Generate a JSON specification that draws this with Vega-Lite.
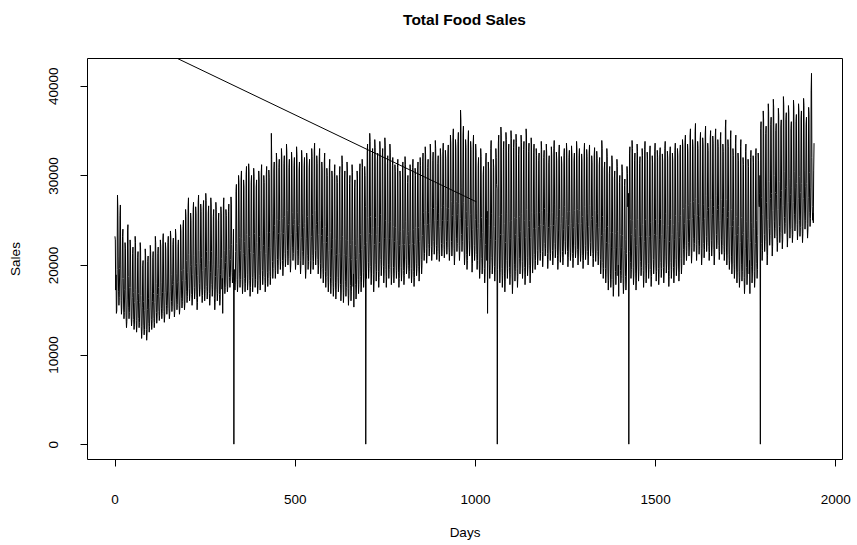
{
"$schema": "https://vega.github.io/schema/vega-lite/v6.json",
"width": 755,
"height": 401,
"autosize": {"type": "none"},
"padding": {"left": 87, "top": 58, "right": 15, "bottom": 86},
"background": "white",
"config": {
  "view": {"stroke": "black", "strokeWidth": 1},
  "font": "Liberation Sans",
  "axis": {"domain": false, "grid": false, "tickColor": "black", "tickSize": 7, "labelColor": "black", "labelFont": "Liberation Sans", "labelFontSize": 13.5, "titleFont": "Liberation Sans", "titleFontSize": 13.5, "titleFontWeight": "normal", "titleColor": "black"}
},
"title": {"text": "Total Food Sales", "font": "Liberation Sans", "fontSize": 15.5, "fontWeight": "bold", "color": "black", "anchor": "middle", "frame": "group", "offset": 30},
"layer": [
{
"data": {"values": [
{"d":1,"v":23200},{"d":2,"v":22800},{"d":3,"v":17200},{"d":4,"v":18900},{"d":5,"v":14600},{"d":6,"v":14900},{"d":7,"v":19500},
{"d":8,"v":27800},{"d":9,"v":26200},{"d":10,"v":21000},{"d":11,"v":17000},{"d":12,"v":15500},{"d":13,"v":16400},{"d":14,"v":19600},
{"d":15,"v":25500},{"d":16,"v":26700},{"d":17,"v":20000},{"d":18,"v":16000},{"d":19,"v":14500},{"d":20,"v":15200},{"d":21,"v":18500},
{"d":22,"v":23200},{"d":23,"v":24000},{"d":24,"v":18500},{"d":25,"v":15200},{"d":26,"v":14000},{"d":27,"v":14700},{"d":28,"v":17300},
{"d":29,"v":22500},{"d":30,"v":21800},{"d":31,"v":17200},{"d":32,"v":14100},{"d":33,"v":13000},{"d":34,"v":13700},{"d":35,"v":16100},
{"d":36,"v":23800},{"d":37,"v":24500},{"d":38,"v":18700},{"d":39,"v":15300},{"d":40,"v":14000},{"d":41,"v":14700},{"d":42,"v":17500},
{"d":43,"v":22800},{"d":44,"v":22000},{"d":45,"v":17500},{"d":46,"v":14300},{"d":47,"v":13200},{"d":48,"v":13900},{"d":49,"v":16400},
{"d":50,"v":21300},{"d":51,"v":22000},{"d":52,"v":16900},{"d":53,"v":13900},{"d":54,"v":12800},{"d":55,"v":13400},{"d":56,"v":15800},
{"d":57,"v":23200},{"d":58,"v":22500},{"d":59,"v":17300},{"d":60,"v":13800},{"d":61,"v":12500},{"d":62,"v":13300},{"d":63,"v":16000},
{"d":64,"v":20800},{"d":65,"v":21500},{"d":66,"v":16800},{"d":67,"v":14000},{"d":68,"v":13000},{"d":69,"v":13600},{"d":70,"v":15800},
{"d":71,"v":22500},{"d":72,"v":21900},{"d":73,"v":16600},{"d":74,"v":13100},{"d":75,"v":11800},{"d":76,"v":12600},{"d":77,"v":15300},
{"d":78,"v":19900},{"d":79,"v":20500},{"d":80,"v":15900},{"d":81,"v":13200},{"d":82,"v":12200},{"d":83,"v":12800},{"d":84,"v":14900},
{"d":85,"v":21800},{"d":86,"v":21100},{"d":87,"v":16200},{"d":88,"v":12800},{"d":89,"v":11600},{"d":90,"v":12300},{"d":91,"v":15000},
{"d":92,"v":20400},{"d":93,"v":21000},{"d":94,"v":16300},{"d":95,"v":13500},{"d":96,"v":12500},{"d":97,"v":13100},{"d":98,"v":15300},
{"d":99,"v":22200},{"d":100,"v":21500},{"d":101,"v":17000},{"d":102,"v":13900},{"d":103,"v":12800},{"d":104,"v":13500},{"d":105,"v":15900},
{"d":106,"v":20800},{"d":107,"v":21500},{"d":108,"v":16800},{"d":109,"v":14000},{"d":110,"v":13000},{"d":111,"v":13600},{"d":112,"v":15800},
{"d":113,"v":23200},{"d":114,"v":22500},{"d":115,"v":17900},{"d":116,"v":14700},{"d":117,"v":13500},{"d":118,"v":14200},{"d":119,"v":16700},
{"d":120,"v":21300},{"d":121,"v":22000},{"d":122,"v":17500},{"d":123,"v":14800},{"d":124,"v":13800},{"d":125,"v":14400},{"d":126,"v":16500},
{"d":127,"v":22800},{"d":128,"v":22100},{"d":129,"v":18000},{"d":130,"v":15100},{"d":131,"v":14000},{"d":132,"v":14600},{"d":133,"v":16900},
{"d":134,"v":22800},{"d":135,"v":23500},{"d":136,"v":18100},{"d":137,"v":14800},{"d":138,"v":13600},{"d":139,"v":14300},{"d":140,"v":16900},
{"d":141,"v":22500},{"d":142,"v":21800},{"d":143,"v":18100},{"d":144,"v":15500},{"d":145,"v":14500},{"d":146,"v":15100},{"d":147,"v":17100},
{"d":148,"v":22500},{"d":149,"v":23200},{"d":150,"v":18100},{"d":151,"v":15100},{"d":152,"v":14000},{"d":153,"v":14600},{"d":154,"v":17000},
{"d":155,"v":23800},{"d":156,"v":23100},{"d":157,"v":18900},{"d":158,"v":15900},{"d":159,"v":14800},{"d":160,"v":15400},{"d":161,"v":17800},
{"d":162,"v":22300},{"d":163,"v":23000},{"d":164,"v":18200},{"d":165,"v":15300},{"d":166,"v":14200},{"d":167,"v":14800},{"d":168,"v":17100},
{"d":169,"v":24000},{"d":170,"v":23300},{"d":171,"v":19000},{"d":172,"v":16100},{"d":173,"v":15000},{"d":174,"v":15600},{"d":175,"v":18000},
{"d":176,"v":22100},{"d":177,"v":22800},{"d":178,"v":18200},{"d":179,"v":15500},{"d":180,"v":14500},{"d":181,"v":15100},{"d":182,"v":17200},
{"d":183,"v":24500},{"d":184,"v":23800},{"d":185,"v":19400},{"d":186,"v":16300},{"d":187,"v":15200},{"d":188,"v":15900},{"d":189,"v":18300},
{"d":190,"v":24300},{"d":191,"v":25000},{"d":192,"v":19500},{"d":193,"v":16200},{"d":194,"v":15000},{"d":195,"v":15700},{"d":196,"v":18300},
{"d":197,"v":26200},{"d":198,"v":25400},{"d":199,"v":20500},{"d":200,"v":17000},{"d":201,"v":15800},{"d":202,"v":16500},{"d":203,"v":19200},
{"d":204,"v":26600},{"d":205,"v":27500},{"d":206,"v":21200},{"d":207,"v":17400},{"d":208,"v":16000},{"d":209,"v":16800},{"d":210,"v":19800},
{"d":211,"v":25800},{"d":212,"v":25000},{"d":213,"v":20100},{"d":214,"v":16700},{"d":215,"v":15500},{"d":216,"v":16200},{"d":217,"v":18900},
{"d":218,"v":26200},{"d":219,"v":27000},{"d":220,"v":21100},{"d":221,"v":17500},{"d":222,"v":16200},{"d":223,"v":17000},{"d":224,"v":19800},
{"d":225,"v":26500},{"d":226,"v":25700},{"d":227,"v":20200},{"d":228,"v":16400},{"d":229,"v":15000},{"d":230,"v":15800},{"d":231,"v":18800},
{"d":232,"v":27000},{"d":233,"v":27800},{"d":234,"v":21600},{"d":235,"v":17900},{"d":236,"v":16500},{"d":237,"v":17300},{"d":238,"v":20200},
{"d":239,"v":26800},{"d":240,"v":26000},{"d":241,"v":20800},{"d":242,"v":17100},{"d":243,"v":15800},{"d":244,"v":16600},{"d":245,"v":19400},
{"d":246,"v":26400},{"d":247,"v":27200},{"d":248,"v":21000},{"d":249,"v":17300},{"d":250,"v":16000},{"d":251,"v":16800},{"d":252,"v":19700},
{"d":253,"v":28000},{"d":254,"v":27200},{"d":255,"v":21500},{"d":256,"v":17600},{"d":257,"v":16200},{"d":258,"v":17000},{"d":259,"v":20100},
{"d":260,"v":25800},{"d":261,"v":26600},{"d":262,"v":20500},{"d":263,"v":16800},{"d":264,"v":15500},{"d":265,"v":16300},{"d":266,"v":19200},
{"d":267,"v":27500},{"d":268,"v":26700},{"d":269,"v":21500},{"d":270,"v":17800},{"d":271,"v":16500},{"d":272,"v":17300},{"d":273,"v":20100},
{"d":274,"v":25400},{"d":275,"v":26200},{"d":276,"v":20000},{"d":277,"v":16300},{"d":278,"v":15000},{"d":279,"v":15800},{"d":280,"v":18700},
{"d":281,"v":27000},{"d":282,"v":26200},{"d":283,"v":21000},{"d":284,"v":17300},{"d":285,"v":16000},{"d":286,"v":16800},{"d":287,"v":19600},
{"d":288,"v":25000},{"d":289,"v":25800},{"d":290,"v":20100},{"d":291,"v":16700},{"d":292,"v":15500},{"d":293,"v":16200},{"d":294,"v":18900},
{"d":295,"v":26500},{"d":296,"v":25700},{"d":297,"v":20700},{"d":298,"v":17300},{"d":299,"v":18500},{"d":300,"v":14600},{"d":301,"v":19500},
{"d":302,"v":26700},{"d":303,"v":27500},{"d":304,"v":21600},{"d":305,"v":18100},{"d":306,"v":16800},{"d":307,"v":17500},{"d":308,"v":20300},
{"d":309,"v":26200},{"d":310,"v":25500},{"d":311,"v":21100},{"d":312,"v":18100},{"d":313,"v":17000},{"d":314,"v":17600},{"d":315,"v":20000},
{"d":316,"v":26000},{"d":317,"v":26800},{"d":318,"v":21700},{"d":319,"v":18600},{"d":320,"v":17500},{"d":321,"v":18200},{"d":322,"v":20600},
{"d":323,"v":27600},{"d":324,"v":26800},{"d":325,"v":22300},{"d":326,"v":19200},{"d":327,"v":18000},{"d":328,"v":18700},{"d":329,"v":21200},
{"d":330,"v":24000},{"d":331,"v":0},{"d":332,"v":19500},{"d":333,"v":17800},{"d":334,"v":17200},{"d":335,"v":18000},{"d":336,"v":21500},
{"d":337,"v":28200},{"d":338,"v":29000},{"d":339,"v":22400},{"d":340,"v":18400},{"d":341,"v":17000},{"d":342,"v":17800},{"d":343,"v":21000},
{"d":344,"v":30000},{"d":345,"v":29200},{"d":346,"v":23100},{"d":347,"v":19000},{"d":348,"v":17500},{"d":349,"v":18400},{"d":350,"v":21600},
{"d":351,"v":29600},{"d":352,"v":30500},{"d":353,"v":23000},{"d":354,"v":18400},{"d":355,"v":16800},{"d":356,"v":17800},{"d":357,"v":21300},
{"d":358,"v":29500},{"d":359,"v":28700},{"d":360,"v":22600},{"d":361,"v":18500},{"d":362,"v":17000},{"d":363,"v":17900},{"d":364,"v":21100},
{"d":365,"v":30100},{"d":366,"v":31000},{"d":367,"v":23400},{"d":368,"v":18900},{"d":369,"v":17200},{"d":370,"v":18200},{"d":371,"v":21800},
{"d":372,"v":31300},{"d":373,"v":30400},{"d":374,"v":23200},{"d":375,"v":18300},{"d":376,"v":16500},{"d":377,"v":17500},{"d":378,"v":21400},
{"d":379,"v":29200},{"d":380,"v":30000},{"d":381,"v":22900},{"d":382,"v":18600},{"d":383,"v":17000},{"d":384,"v":17900},{"d":385,"v":21300},
{"d":386,"v":30800},{"d":387,"v":29900},{"d":388,"v":23500},{"d":389,"v":19100},{"d":390,"v":17500},{"d":391,"v":18400},{"d":392,"v":21900},
{"d":393,"v":28700},{"d":394,"v":29500},{"d":395,"v":22500},{"d":396,"v":18300},{"d":397,"v":16800},{"d":398,"v":17700},{"d":399,"v":21000},
{"d":400,"v":30500},{"d":401,"v":29600},{"d":402,"v":23200},{"d":403,"v":18800},{"d":404,"v":17200},{"d":405,"v":18100},{"d":406,"v":21600},
{"d":407,"v":30300},{"d":408,"v":31200},{"d":409,"v":23800},{"d":410,"v":19400},{"d":411,"v":17800},{"d":412,"v":18700},{"d":413,"v":22200},
{"d":414,"v":30000},{"d":415,"v":29200},{"d":416,"v":22900},{"d":417,"v":18600},{"d":418,"v":17000},{"d":419,"v":17900},{"d":420,"v":21300},
{"d":421,"v":30100},{"d":422,"v":31000},{"d":423,"v":23600},{"d":424,"v":19200},{"d":425,"v":17600},{"d":426,"v":18500},{"d":427,"v":22000},
{"d":428,"v":30600},{"d":429,"v":29800},{"d":430,"v":23600},{"d":431,"v":19300},{"d":432,"v":17800},{"d":433,"v":18700},{"d":434,"v":22000},
{"d":435,"v":34700},{"d":436,"v":31800},{"d":437,"v":25800},{"d":438,"v":20400},{"d":439,"v":18500},{"d":440,"v":19600},{"d":441,"v":23800},
{"d":442,"v":30600},{"d":443,"v":31500},{"d":444,"v":24400},{"d":445,"v":20100},{"d":446,"v":18500},{"d":447,"v":19400},{"d":448,"v":22800},
{"d":449,"v":32500},{"d":450,"v":31600},{"d":451,"v":25100},{"d":452,"v":20600},{"d":453,"v":19000},{"d":454,"v":19900},{"d":455,"v":23500},
{"d":456,"v":30900},{"d":457,"v":31800},{"d":458,"v":25000},{"d":459,"v":21000},{"d":460,"v":19500},{"d":461,"v":20400},{"d":462,"v":23600},
{"d":463,"v":33000},{"d":464,"v":32100},{"d":465,"v":25200},{"d":466,"v":20500},{"d":467,"v":18800},{"d":468,"v":19800},{"d":469,"v":23500},
{"d":470,"v":31300},{"d":471,"v":32200},{"d":472,"v":25400},{"d":473,"v":21300},{"d":474,"v":19800},{"d":475,"v":20700},{"d":476,"v":23900},
{"d":477,"v":33500},{"d":478,"v":32600},{"d":479,"v":26100},{"d":480,"v":21600},{"d":481,"v":20000},{"d":482,"v":20900},{"d":483,"v":24500},
{"d":484,"v":30900},{"d":485,"v":31800},{"d":486,"v":24900},{"d":487,"v":20700},{"d":488,"v":19200},{"d":489,"v":20100},{"d":490,"v":23400},
{"d":491,"v":32600},{"d":492,"v":31700},{"d":493,"v":25900},{"d":494,"v":22000},{"d":495,"v":20500},{"d":496,"v":21300},{"d":497,"v":24500},
{"d":498,"v":31100},{"d":499,"v":32000},{"d":500,"v":25100},{"d":501,"v":21000},{"d":502,"v":19500},{"d":503,"v":20400},{"d":504,"v":23600},
{"d":505,"v":33200},{"d":506,"v":32300},{"d":507,"v":25900},{"d":508,"v":21600},{"d":509,"v":20000},{"d":510,"v":20900},{"d":511,"v":24400},
{"d":512,"v":30600},{"d":513,"v":31500},{"d":514,"v":24600},{"d":515,"v":20500},{"d":516,"v":19000},{"d":517,"v":19900},{"d":518,"v":23100},
{"d":519,"v":32800},{"d":520,"v":31900},{"d":521,"v":25800},{"d":522,"v":21500},{"d":523,"v":20000},{"d":524,"v":20900},{"d":525,"v":24200},
{"d":526,"v":31100},{"d":527,"v":32000},{"d":528,"v":24600},{"d":529,"v":20100},{"d":530,"v":18500},{"d":531,"v":19400},{"d":532,"v":23000},
{"d":533,"v":32500},{"d":534,"v":31600},{"d":535,"v":25400},{"d":536,"v":21100},{"d":537,"v":19500},{"d":538,"v":20400},{"d":539,"v":23800},
{"d":540,"v":30900},{"d":541,"v":31800},{"d":542,"v":24800},{"d":543,"v":20500},{"d":544,"v":19000},{"d":545,"v":19900},{"d":546,"v":23200},
{"d":547,"v":33000},{"d":548,"v":32100},{"d":549,"v":25600},{"d":550,"v":21100},{"d":551,"v":19500},{"d":552,"v":20400},{"d":553,"v":24000},
{"d":554,"v":32700},{"d":555,"v":33600},{"d":556,"v":26100},{"d":557,"v":21600},{"d":558,"v":20000},{"d":559,"v":21000},{"d":560,"v":24500},
{"d":561,"v":32200},{"d":562,"v":31300},{"d":563,"v":24900},{"d":564,"v":20600},{"d":565,"v":19000},{"d":566,"v":19900},{"d":567,"v":23400},
{"d":568,"v":32100},{"d":569,"v":33000},{"d":570,"v":25000},{"d":571,"v":20200},{"d":572,"v":18500},{"d":573,"v":19500},{"d":574,"v":23300},
{"d":575,"v":31500},{"d":576,"v":30600},{"d":577,"v":24100},{"d":578,"v":19600},{"d":579,"v":18000},{"d":580,"v":18900},{"d":581,"v":22500},
{"d":582,"v":31600},{"d":583,"v":32500},{"d":584,"v":24300},{"d":585,"v":19300},{"d":586,"v":17500},{"d":587,"v":18600},{"d":588,"v":22500},
{"d":589,"v":30800},{"d":590,"v":30000},{"d":591,"v":23200},{"d":592,"v":18700},{"d":593,"v":17000},{"d":594,"v":18000},{"d":595,"v":21600},
{"d":596,"v":30900},{"d":597,"v":31800},{"d":598,"v":23600},{"d":599,"v":18600},{"d":600,"v":16800},{"d":601,"v":17900},{"d":602,"v":21800},
{"d":603,"v":30500},{"d":604,"v":29700},{"d":605,"v":22800},{"d":606,"v":18200},{"d":607,"v":16500},{"d":608,"v":17500},{"d":609,"v":21100},
{"d":610,"v":30300},{"d":611,"v":31200},{"d":612,"v":23000},{"d":613,"v":18000},{"d":614,"v":16200},{"d":615,"v":17300},{"d":616,"v":21200},
{"d":617,"v":30000},{"d":618,"v":29200},{"d":619,"v":22900},{"d":620,"v":18600},{"d":621,"v":17000},{"d":622,"v":17900},{"d":623,"v":21300},
{"d":624,"v":30100},{"d":625,"v":31000},{"d":626,"v":22800},{"d":627,"v":17800},{"d":628,"v":16000},{"d":629,"v":17100},{"d":630,"v":21000},
{"d":631,"v":32200},{"d":632,"v":31300},{"d":633,"v":23200},{"d":634,"v":17800},{"d":635,"v":15800},{"d":636,"v":16900},{"d":637,"v":21200},
{"d":638,"v":29600},{"d":639,"v":30500},{"d":640,"v":22800},{"d":641,"v":18200},{"d":642,"v":16500},{"d":643,"v":17500},{"d":644,"v":21100},
{"d":645,"v":31500},{"d":646,"v":30600},{"d":647,"v":22700},{"d":648,"v":17400},{"d":649,"v":15500},{"d":650,"v":16600},{"d":651,"v":20800},
{"d":652,"v":29100},{"d":653,"v":30000},{"d":654,"v":22300},{"d":655,"v":17700},{"d":656,"v":16000},{"d":657,"v":17000},{"d":658,"v":20600},
{"d":659,"v":31200},{"d":660,"v":30300},{"d":661,"v":22700},{"d":662,"v":17600},{"d":663,"v":19000},{"d":664,"v":15300},{"d":665,"v":20900},
{"d":666,"v":28600},{"d":667,"v":29500},{"d":668,"v":22200},{"d":669,"v":17800},{"d":670,"v":16200},{"d":671,"v":17100},{"d":672,"v":20600},
{"d":673,"v":30500},{"d":674,"v":29700},{"d":675,"v":23000},{"d":676,"v":18400},{"d":677,"v":16800},{"d":678,"v":17800},{"d":679,"v":21300},
{"d":680,"v":30400},{"d":681,"v":31300},{"d":682,"v":23400},{"d":683,"v":18700},{"d":684,"v":17000},{"d":685,"v":18000},{"d":686,"v":21700},
{"d":687,"v":31800},{"d":688,"v":30900},{"d":689,"v":23900},{"d":690,"v":19200},{"d":691,"v":17500},{"d":692,"v":18500},{"d":693,"v":22200},
{"d":694,"v":31000},{"d":695,"v":30000},{"d":696,"v":26500},{"d":697,"v":0},{"d":698,"v":19000},{"d":699,"v":18500},{"d":700,"v":22500},
{"d":701,"v":32600},{"d":702,"v":33500},{"d":703,"v":25300},{"d":704,"v":20300},{"d":705,"v":18500},{"d":706,"v":19600},{"d":707,"v":23500},
{"d":708,"v":34700},{"d":709,"v":33800},{"d":710,"v":25400},{"d":711,"v":19800},{"d":712,"v":17800},{"d":713,"v":19000},{"d":714,"v":23400},
{"d":715,"v":32100},{"d":716,"v":33000},{"d":717,"v":24200},{"d":718,"v":18900},{"d":719,"v":17000},{"d":720,"v":18100},{"d":721,"v":22300},
{"d":722,"v":34000},{"d":723,"v":33100},{"d":724,"v":25300},{"d":725,"v":20100},{"d":726,"v":18200},{"d":727,"v":19300},{"d":728,"v":23400},
{"d":729,"v":31600},{"d":730,"v":32500},{"d":731,"v":24300},{"d":732,"v":19300},{"d":733,"v":17500},{"d":734,"v":18600},{"d":735,"v":22500},
{"d":736,"v":33800},{"d":737,"v":32900},{"d":738,"v":25600},{"d":739,"v":20600},{"d":740,"v":18800},{"d":741,"v":19900},{"d":742,"v":23800},
{"d":743,"v":32100},{"d":744,"v":33000},{"d":745,"v":24800},{"d":746,"v":19800},{"d":747,"v":18000},{"d":748,"v":19100},{"d":749,"v":23000},
{"d":750,"v":34200},{"d":751,"v":33300},{"d":752,"v":25000},{"d":753,"v":19500},{"d":754,"v":17500},{"d":755,"v":18700},{"d":756,"v":23000},
{"d":757,"v":31300},{"d":758,"v":32200},{"d":759,"v":24700},{"d":760,"v":20100},{"d":761,"v":18500},{"d":762,"v":19500},{"d":763,"v":23000},
{"d":764,"v":33500},{"d":765,"v":32600},{"d":766,"v":24900},{"d":767,"v":19700},{"d":768,"v":17800},{"d":769,"v":18900},{"d":770,"v":23000},
{"d":771,"v":31100},{"d":772,"v":32000},{"d":773,"v":24300},{"d":774,"v":19700},{"d":775,"v":18000},{"d":776,"v":19000},{"d":777,"v":22600},
{"d":778,"v":31200},{"d":779,"v":30400},{"d":780,"v":24200},{"d":781,"v":20000},{"d":782,"v":18500},{"d":783,"v":19400},{"d":784,"v":22700},
{"d":785,"v":30900},{"d":786,"v":31800},{"d":787,"v":23900},{"d":788,"v":19200},{"d":789,"v":17500},{"d":790,"v":18500},{"d":791,"v":22200},
{"d":792,"v":30500},{"d":793,"v":29700},{"d":794,"v":23700},{"d":795,"v":19700},{"d":796,"v":18200},{"d":797,"v":19100},{"d":798,"v":22300},
{"d":799,"v":30600},{"d":800,"v":31500},{"d":801,"v":24000},{"d":802,"v":19400},{"d":803,"v":17800},{"d":804,"v":18800},{"d":805,"v":22300},
{"d":806,"v":32100},{"d":807,"v":31200},{"d":808,"v":24900},{"d":809,"v":20600},{"d":810,"v":19000},{"d":811,"v":19900},{"d":812,"v":23300},
{"d":813,"v":29200},{"d":814,"v":30000},{"d":815,"v":23700},{"d":816,"v":19900},{"d":817,"v":18500},{"d":818,"v":19300},{"d":819,"v":22300},
{"d":820,"v":31200},{"d":821,"v":30400},{"d":822,"v":23900},{"d":823,"v":19600},{"d":824,"v":18000},{"d":825,"v":18900},{"d":826,"v":22400},
{"d":827,"v":30900},{"d":828,"v":31800},{"d":829,"v":24000},{"d":830,"v":19300},{"d":831,"v":17600},{"d":832,"v":18600},{"d":833,"v":22300},
{"d":834,"v":30800},{"d":835,"v":30000},{"d":836,"v":24200},{"d":837,"v":20200},{"d":838,"v":18800},{"d":839,"v":19600},{"d":840,"v":22800},
{"d":841,"v":30600},{"d":842,"v":31500},{"d":843,"v":24200},{"d":844,"v":19800},{"d":845,"v":18200},{"d":846,"v":19100},{"d":847,"v":22600},
{"d":848,"v":32000},{"d":849,"v":31100},{"d":850,"v":24900},{"d":851,"v":20600},{"d":852,"v":19000},{"d":853,"v":19900},{"d":854,"v":23300},
{"d":855,"v":31600},{"d":856,"v":32500},{"d":857,"v":25900},{"d":858,"v":21900},{"d":859,"v":20500},{"d":860,"v":21300},{"d":861,"v":24500},
{"d":862,"v":33200},{"d":863,"v":32300},{"d":864,"v":26100},{"d":865,"v":21800},{"d":866,"v":20200},{"d":867,"v":21100},{"d":868,"v":24500},
{"d":869,"v":30900},{"d":870,"v":31800},{"d":871,"v":25900},{"d":872,"v":22300},{"d":873,"v":21000},{"d":874,"v":21800},{"d":875,"v":24600},
{"d":876,"v":33500},{"d":877,"v":32600},{"d":878,"v":26400},{"d":879,"v":22100},{"d":880,"v":20500},{"d":881,"v":21400},{"d":882,"v":24800},
{"d":883,"v":31700},{"d":884,"v":32600},{"d":885,"v":26300},{"d":886,"v":22600},{"d":887,"v":21200},{"d":888,"v":22000},{"d":889,"v":25000},
{"d":890,"v":33900},{"d":891,"v":33000},{"d":892,"v":26600},{"d":893,"v":22200},{"d":894,"v":20600},{"d":895,"v":21500},{"d":896,"v":25000},
{"d":897,"v":31300},{"d":898,"v":32200},{"d":899,"v":25700},{"d":900,"v":21800},{"d":901,"v":20400},{"d":902,"v":21200},{"d":903,"v":24300},
{"d":904,"v":33000},{"d":905,"v":32100},{"d":906,"v":26400},{"d":907,"v":22400},{"d":908,"v":21000},{"d":909,"v":21800},{"d":910,"v":25000},
{"d":911,"v":32700},{"d":912,"v":33600},{"d":913,"v":26600},{"d":914,"v":22300},{"d":915,"v":20800},{"d":916,"v":21700},{"d":917,"v":25000},
{"d":918,"v":32800},{"d":919,"v":31900},{"d":920,"v":26400},{"d":921,"v":22600},{"d":922,"v":21200},{"d":923,"v":22000},{"d":924,"v":25000},
{"d":925,"v":32500},{"d":926,"v":33400},{"d":927,"v":26300},{"d":928,"v":22000},{"d":929,"v":20500},{"d":930,"v":21400},{"d":931,"v":24800},
{"d":932,"v":34500},{"d":933,"v":33600},{"d":934,"v":27100},{"d":935,"v":22600},{"d":936,"v":21000},{"d":937,"v":21900},{"d":938,"v":25500},
{"d":939,"v":34200},{"d":940,"v":35200},{"d":941,"v":26800},{"d":942,"v":21800},{"d":943,"v":20000},{"d":944,"v":21100},{"d":945,"v":25000},
{"d":946,"v":34000},{"d":947,"v":33100},{"d":948,"v":27100},{"d":949,"v":23000},{"d":950,"v":21500},{"d":951,"v":22400},{"d":952,"v":25600},
{"d":953,"v":33800},{"d":954,"v":34800},{"d":955,"v":26900},{"d":956,"v":22200},{"d":957,"v":20500},{"d":958,"v":21500},{"d":959,"v":25200},
{"d":960,"v":37300},{"d":961,"v":36200},{"d":962,"v":28600},{"d":963,"v":23400},{"d":964,"v":21500},{"d":965,"v":22600},{"d":966,"v":26700},
{"d":967,"v":34500},{"d":968,"v":35500},{"d":969,"v":27000},{"d":970,"v":21900},{"d":971,"v":20000},{"d":972,"v":21100},{"d":973,"v":25100},
{"d":974,"v":34000},{"d":975,"v":33100},{"d":976,"v":26000},{"d":977,"v":21200},{"d":978,"v":19500},{"d":979,"v":20500},{"d":980,"v":24300},
{"d":981,"v":34000},{"d":982,"v":35000},{"d":983,"v":27300},{"d":984,"v":22700},{"d":985,"v":21000},{"d":986,"v":22000},{"d":987,"v":25600},
{"d":988,"v":33800},{"d":989,"v":32900},{"d":990,"v":25800},{"d":991,"v":21000},{"d":992,"v":19200},{"d":993,"v":20200},{"d":994,"v":24000},
{"d":995,"v":33500},{"d":996,"v":34500},{"d":997,"v":26800},{"d":998,"v":22200},{"d":999,"v":20500},{"d":1000,"v":21500},{"d":1001,"v":25100},
{"d":1002,"v":33500},{"d":1003,"v":32600},{"d":1004,"v":25800},{"d":1005,"v":21200},{"d":1006,"v":19500},{"d":1007,"v":20500},{"d":1008,"v":24100},
{"d":1009,"v":31100},{"d":1010,"v":32000},{"d":1011,"v":24600},{"d":1012,"v":20100},{"d":1013,"v":18500},{"d":1014,"v":19400},{"d":1015,"v":23000},
{"d":1016,"v":33000},{"d":1017,"v":32100},{"d":1018,"v":25300},{"d":1019,"v":20700},{"d":1020,"v":19000},{"d":1021,"v":20000},{"d":1022,"v":23600},
{"d":1023,"v":30100},{"d":1024,"v":31000},{"d":1025,"v":23900},{"d":1026,"v":19600},{"d":1027,"v":18000},{"d":1028,"v":18900},{"d":1029,"v":22300},
{"d":1030,"v":31600},{"d":1031,"v":32500},{"d":1032,"v":25200},{"d":1033,"v":20500},{"d":1034,"v":26000},{"d":1035,"v":14600},{"d":1036,"v":23000},
{"d":1037,"v":31500},{"d":1038,"v":30600},{"d":1039,"v":24400},{"d":1040,"v":20100},{"d":1041,"v":18500},{"d":1042,"v":19400},{"d":1043,"v":22800},
{"d":1044,"v":33000},{"d":1045,"v":33900},{"d":1046,"v":25700},{"d":1047,"v":20800},{"d":1048,"v":19000},{"d":1049,"v":20000},{"d":1050,"v":23900},
{"d":1051,"v":31800},{"d":1052,"v":30900},{"d":1053,"v":24300},{"d":1054,"v":19800},{"d":1055,"v":18200},{"d":1056,"v":19200},{"d":1057,"v":22700},
{"d":1058,"v":33000},{"d":1059,"v":32000},{"d":1060,"v":29000},{"d":1061,"v":28500},{"d":1062,"v":0},{"d":1063,"v":19500},{"d":1064,"v":23000},
{"d":1065,"v":33600},{"d":1066,"v":34500},{"d":1067,"v":25400},{"d":1068,"v":20000},{"d":1069,"v":18000},{"d":1070,"v":19200},{"d":1071,"v":23400},
{"d":1072,"v":35400},{"d":1073,"v":34500},{"d":1074,"v":25600},{"d":1075,"v":19600},{"d":1076,"v":17500},{"d":1077,"v":18800},{"d":1078,"v":23400},
{"d":1079,"v":32900},{"d":1080,"v":33800},{"d":1081,"v":24600},{"d":1082,"v":19000},{"d":1083,"v":17000},{"d":1084,"v":18200},{"d":1085,"v":22500},
{"d":1086,"v":34800},{"d":1087,"v":34000},{"d":1088,"v":25800},{"d":1089,"v":20500},{"d":1090,"v":18500},{"d":1091,"v":19600},{"d":1092,"v":23900},
{"d":1093,"v":32600},{"d":1094,"v":33500},{"d":1095,"v":24900},{"d":1096,"v":19700},{"d":1097,"v":17800},{"d":1098,"v":18900},{"d":1099,"v":23000},
{"d":1100,"v":35000},{"d":1101,"v":34100},{"d":1102,"v":25000},{"d":1103,"v":19000},{"d":1104,"v":16800},{"d":1105,"v":18100},{"d":1106,"v":22800},
{"d":1107,"v":33100},{"d":1108,"v":34000},{"d":1109,"v":25300},{"d":1110,"v":20100},{"d":1111,"v":18200},{"d":1112,"v":19300},{"d":1113,"v":23400},
{"d":1114,"v":34600},{"d":1115,"v":33700},{"d":1116,"v":25200},{"d":1117,"v":19600},{"d":1118,"v":17500},{"d":1119,"v":18700},{"d":1120,"v":23100},
{"d":1121,"v":32300},{"d":1122,"v":33200},{"d":1123,"v":25400},{"d":1124,"v":20700},{"d":1125,"v":19000},{"d":1126,"v":20000},{"d":1127,"v":23700},
{"d":1128,"v":34500},{"d":1129,"v":33700},{"d":1130,"v":25700},{"d":1131,"v":20400},{"d":1132,"v":18500},{"d":1133,"v":19600},{"d":1134,"v":23800},
{"d":1135,"v":32900},{"d":1136,"v":33800},{"d":1137,"v":25000},{"d":1138,"v":19700},{"d":1139,"v":17800},{"d":1140,"v":18900},{"d":1141,"v":23100},
{"d":1142,"v":35200},{"d":1143,"v":34400},{"d":1144,"v":26200},{"d":1145,"v":20800},{"d":1146,"v":18800},{"d":1147,"v":19900},{"d":1148,"v":24200},
{"d":1149,"v":32700},{"d":1150,"v":33600},{"d":1151,"v":25000},{"d":1152,"v":19900},{"d":1153,"v":18000},{"d":1154,"v":19100},{"d":1155,"v":23100},
{"d":1156,"v":34200},{"d":1157,"v":33400},{"d":1158,"v":25900},{"d":1159,"v":20900},{"d":1160,"v":19100},{"d":1161,"v":20200},{"d":1162,"v":24100},
{"d":1163,"v":32600},{"d":1164,"v":33500},{"d":1165,"v":25800},{"d":1166,"v":21200},{"d":1167,"v":19500},{"d":1168,"v":20500},{"d":1169,"v":24100},
{"d":1170,"v":33000},{"d":1171,"v":32200},{"d":1172,"v":25900},{"d":1173,"v":21600},{"d":1174,"v":20000},{"d":1175,"v":20900},{"d":1176,"v":24300},
{"d":1177,"v":31700},{"d":1178,"v":32500},{"d":1179,"v":25900},{"d":1180,"v":21900},{"d":1181,"v":20500},{"d":1182,"v":21300},{"d":1183,"v":24500},
{"d":1184,"v":33800},{"d":1185,"v":32900},{"d":1186,"v":26100},{"d":1187,"v":21500},{"d":1188,"v":19800},{"d":1189,"v":20800},{"d":1190,"v":24400},
{"d":1191,"v":32000},{"d":1192,"v":32800},{"d":1193,"v":26300},{"d":1194,"v":22400},{"d":1195,"v":21000},{"d":1196,"v":21800},{"d":1197,"v":24900},
{"d":1198,"v":33500},{"d":1199,"v":32600},{"d":1200,"v":25900},{"d":1201,"v":21300},{"d":1202,"v":19600},{"d":1203,"v":20600},{"d":1204,"v":24200},
{"d":1205,"v":31400},{"d":1206,"v":32200},{"d":1207,"v":25800},{"d":1208,"v":21900},{"d":1209,"v":20500},{"d":1210,"v":21300},{"d":1211,"v":24400},
{"d":1212,"v":33200},{"d":1213,"v":32300},{"d":1214,"v":25900},{"d":1215,"v":21600},{"d":1216,"v":20000},{"d":1217,"v":20900},{"d":1218,"v":24400},
{"d":1219,"v":33000},{"d":1220,"v":33900},{"d":1221,"v":26700},{"d":1222,"v":22400},{"d":1223,"v":20800},{"d":1224,"v":21700},{"d":1225,"v":25100},
{"d":1226,"v":32600},{"d":1227,"v":31700},{"d":1228,"v":25400},{"d":1229,"v":21100},{"d":1230,"v":19500},{"d":1231,"v":20400},{"d":1232,"v":23800},
{"d":1233,"v":32500},{"d":1234,"v":33400},{"d":1235,"v":26200},{"d":1236,"v":21900},{"d":1237,"v":20300},{"d":1238,"v":21200},{"d":1239,"v":24600},
{"d":1240,"v":32100},{"d":1241,"v":31300},{"d":1242,"v":25400},{"d":1243,"v":21500},{"d":1244,"v":20000},{"d":1245,"v":20800},{"d":1246,"v":24000},
{"d":1247,"v":32200},{"d":1248,"v":33000},{"d":1249,"v":26500},{"d":1250,"v":22600},{"d":1251,"v":21200},{"d":1252,"v":22000},{"d":1253,"v":25100},
{"d":1254,"v":33600},{"d":1255,"v":32700},{"d":1256,"v":26000},{"d":1257,"v":21500},{"d":1258,"v":19800},{"d":1259,"v":20800},{"d":1260,"v":24400},
{"d":1261,"v":32000},{"d":1262,"v":32800},{"d":1263,"v":26000},{"d":1264,"v":22000},{"d":1265,"v":20500},{"d":1266,"v":21400},{"d":1267,"v":24600},
{"d":1268,"v":33300},{"d":1269,"v":32400},{"d":1270,"v":25800},{"d":1271,"v":21300},{"d":1272,"v":19700},{"d":1273,"v":20700},{"d":1274,"v":24200},
{"d":1275,"v":31700},{"d":1276,"v":32500},{"d":1277,"v":26100},{"d":1278,"v":22200},{"d":1279,"v":20800},{"d":1280,"v":21600},{"d":1281,"v":24700},
{"d":1282,"v":33800},{"d":1283,"v":32900},{"d":1284,"v":26200},{"d":1285,"v":21700},{"d":1286,"v":20000},{"d":1287,"v":21000},{"d":1288,"v":24600},
{"d":1289,"v":32200},{"d":1290,"v":33000},{"d":1291,"v":26100},{"d":1292,"v":21900},{"d":1293,"v":20400},{"d":1294,"v":21300},{"d":1295,"v":24600},
{"d":1296,"v":32400},{"d":1297,"v":31600},{"d":1298,"v":25400},{"d":1299,"v":21100},{"d":1300,"v":19600},{"d":1301,"v":20500},{"d":1302,"v":23800},
{"d":1303,"v":32700},{"d":1304,"v":33600},{"d":1305,"v":26500},{"d":1306,"v":22200},{"d":1307,"v":20600},{"d":1308,"v":21500},{"d":1309,"v":24900},
{"d":1310,"v":32900},{"d":1311,"v":32100},{"d":1312,"v":25800},{"d":1313,"v":21500},{"d":1314,"v":20000},{"d":1315,"v":20900},{"d":1316,"v":24300},
{"d":1317,"v":32600},{"d":1318,"v":33400},{"d":1319,"v":26600},{"d":1320,"v":22500},{"d":1321,"v":21000},{"d":1322,"v":21900},{"d":1323,"v":25100},
{"d":1324,"v":32200},{"d":1325,"v":31400},{"d":1326,"v":25400},{"d":1327,"v":21300},{"d":1328,"v":19800},{"d":1329,"v":20700},{"d":1330,"v":23900},
{"d":1331,"v":32300},{"d":1332,"v":33100},{"d":1333,"v":26100},{"d":1334,"v":21900},{"d":1335,"v":20400},{"d":1336,"v":21300},{"d":1337,"v":24600},
{"d":1338,"v":32700},{"d":1339,"v":31900},{"d":1340,"v":25700},{"d":1341,"v":21500},{"d":1342,"v":20000},{"d":1343,"v":20900},{"d":1344,"v":24200},
{"d":1345,"v":31200},{"d":1346,"v":32000},{"d":1347,"v":24900},{"d":1348,"v":20600},{"d":1349,"v":19000},{"d":1350,"v":19900},{"d":1351,"v":23300},
{"d":1352,"v":33900},{"d":1353,"v":33000},{"d":1354,"v":25400},{"d":1355,"v":20300},{"d":1356,"v":18500},{"d":1357,"v":19600},{"d":1358,"v":23600},
{"d":1359,"v":30700},{"d":1360,"v":31500},{"d":1361,"v":24100},{"d":1362,"v":19600},{"d":1363,"v":18000},{"d":1364,"v":18900},{"d":1365,"v":22500},
{"d":1366,"v":33000},{"d":1367,"v":32100},{"d":1368,"v":24300},{"d":1369,"v":19100},{"d":1370,"v":17200},{"d":1371,"v":18300},{"d":1372,"v":22400},
{"d":1373,"v":30200},{"d":1374,"v":31000},{"d":1375,"v":23600},{"d":1376,"v":19100},{"d":1377,"v":17500},{"d":1378,"v":18400},{"d":1379,"v":22000},
{"d":1380,"v":32200},{"d":1381,"v":31400},{"d":1382,"v":23600},{"d":1383,"v":18400},{"d":1384,"v":16500},{"d":1385,"v":17600},{"d":1386,"v":21700},
{"d":1387,"v":29700},{"d":1388,"v":30500},{"d":1389,"v":23500},{"d":1390,"v":19300},{"d":1391,"v":17800},{"d":1392,"v":18700},{"d":1393,"v":22000},
{"d":1394,"v":31800},{"d":1395,"v":31000},{"d":1396,"v":23700},{"d":1397,"v":18800},{"d":1398,"v":20000},{"d":1399,"v":16500},{"d":1400,"v":22000},
{"d":1401,"v":29200},{"d":1402,"v":30000},{"d":1403,"v":23400},{"d":1404,"v":19400},{"d":1405,"v":18000},{"d":1406,"v":18800},{"d":1407,"v":22000},
{"d":1408,"v":31200},{"d":1409,"v":30400},{"d":1410,"v":23300},{"d":1411,"v":18500},{"d":1412,"v":16800},{"d":1413,"v":17800},{"d":1414,"v":21600},
{"d":1415,"v":28900},{"d":1416,"v":29600},{"d":1417,"v":22800},{"d":1418,"v":18700},{"d":1419,"v":17200},{"d":1420,"v":18100},{"d":1421,"v":21300},
{"d":1422,"v":31000},{"d":1423,"v":30200},{"d":1424,"v":26500},{"d":1425,"v":27000},{"d":1426,"v":28000},{"d":1427,"v":0},{"d":1428,"v":21500},
{"d":1429,"v":32400},{"d":1430,"v":33200},{"d":1431,"v":25100},{"d":1432,"v":20300},{"d":1433,"v":18500},{"d":1434,"v":19500},{"d":1435,"v":23400},
{"d":1436,"v":33900},{"d":1437,"v":33000},{"d":1438,"v":25000},{"d":1439,"v":19700},{"d":1440,"v":17800},{"d":1441,"v":18900},{"d":1442,"v":23100},
{"d":1443,"v":31700},{"d":1444,"v":32500},{"d":1445,"v":24100},{"d":1446,"v":19000},{"d":1447,"v":17200},{"d":1448,"v":18300},{"d":1449,"v":22200},
{"d":1450,"v":33500},{"d":1451,"v":32700},{"d":1452,"v":25100},{"d":1453,"v":20000},{"d":1454,"v":18200},{"d":1455,"v":19300},{"d":1456,"v":23200},
{"d":1457,"v":31300},{"d":1458,"v":32100},{"d":1459,"v":24800},{"d":1460,"v":20400},{"d":1461,"v":18800},{"d":1462,"v":19700},{"d":1463,"v":23200},
{"d":1464,"v":33000},{"d":1465,"v":32200},{"d":1466,"v":24500},{"d":1467,"v":19400},{"d":1468,"v":17500},{"d":1469,"v":18600},{"d":1470,"v":22600},
{"d":1471,"v":32900},{"d":1472,"v":33800},{"d":1473,"v":25100},{"d":1474,"v":19900},{"d":1475,"v":18000},{"d":1476,"v":19100},{"d":1477,"v":23200},
{"d":1478,"v":32600},{"d":1479,"v":31800},{"d":1480,"v":24800},{"d":1481,"v":20200},{"d":1482,"v":18500},{"d":1483,"v":19500},{"d":1484,"v":23200},
{"d":1485,"v":32500},{"d":1486,"v":33300},{"d":1487,"v":24700},{"d":1488,"v":19500},{"d":1489,"v":17600},{"d":1490,"v":18700},{"d":1491,"v":22800},
{"d":1492,"v":32200},{"d":1493,"v":31400},{"d":1494,"v":24900},{"d":1495,"v":20600},{"d":1496,"v":19000},{"d":1497,"v":19900},{"d":1498,"v":23400},
{"d":1499,"v":32700},{"d":1500,"v":33600},{"d":1501,"v":25100},{"d":1502,"v":20000},{"d":1503,"v":18200},{"d":1504,"v":19300},{"d":1505,"v":23300},
{"d":1506,"v":32800},{"d":1507,"v":32000},{"d":1508,"v":24600},{"d":1509,"v":19600},{"d":1510,"v":17800},{"d":1511,"v":18900},{"d":1512,"v":22800},
{"d":1513,"v":32300},{"d":1514,"v":33100},{"d":1515,"v":25100},{"d":1516,"v":20300},{"d":1517,"v":18600},{"d":1518,"v":19600},{"d":1519,"v":23400},
{"d":1520,"v":32400},{"d":1521,"v":31600},{"d":1522,"v":24500},{"d":1523,"v":19700},{"d":1524,"v":18000},{"d":1525,"v":19000},{"d":1526,"v":22800},
{"d":1527,"v":33000},{"d":1528,"v":33800},{"d":1529,"v":25700},{"d":1530,"v":20900},{"d":1531,"v":19100},{"d":1532,"v":20100},{"d":1533,"v":24000},
{"d":1534,"v":32700},{"d":1535,"v":31900},{"d":1536,"v":24400},{"d":1537,"v":19400},{"d":1538,"v":17600},{"d":1539,"v":18700},{"d":1540,"v":22600},
{"d":1541,"v":32400},{"d":1542,"v":33200},{"d":1543,"v":25100},{"d":1544,"v":20300},{"d":1545,"v":18500},{"d":1546,"v":19500},{"d":1547,"v":23400},
{"d":1548,"v":32500},{"d":1549,"v":31700},{"d":1550,"v":24500},{"d":1551,"v":19700},{"d":1552,"v":18000},{"d":1553,"v":19000},{"d":1554,"v":22800},
{"d":1555,"v":32800},{"d":1556,"v":33600},{"d":1557,"v":25500},{"d":1558,"v":20600},{"d":1559,"v":18800},{"d":1560,"v":19800},{"d":1561,"v":23700},
{"d":1562,"v":33000},{"d":1563,"v":32200},{"d":1564,"v":24900},{"d":1565,"v":20000},{"d":1566,"v":18200},{"d":1567,"v":19200},{"d":1568,"v":23100},
{"d":1569,"v":32600},{"d":1570,"v":33400},{"d":1571,"v":25500},{"d":1572,"v":20700},{"d":1573,"v":19000},{"d":1574,"v":20000},{"d":1575,"v":23800},
{"d":1576,"v":34000},{"d":1577,"v":33200},{"d":1578,"v":26300},{"d":1579,"v":21700},{"d":1580,"v":20000},{"d":1581,"v":21000},{"d":1582,"v":24600},
{"d":1583,"v":33700},{"d":1584,"v":34500},{"d":1585,"v":26800},{"d":1586,"v":22200},{"d":1587,"v":20500},{"d":1588,"v":21500},{"d":1589,"v":25100},
{"d":1590,"v":33500},{"d":1591,"v":32700},{"d":1592,"v":26600},{"d":1593,"v":22500},{"d":1594,"v":21000},{"d":1595,"v":21900},{"d":1596,"v":25100},
{"d":1597,"v":34400},{"d":1598,"v":35200},{"d":1599,"v":27000},{"d":1600,"v":22000},{"d":1601,"v":20200},{"d":1602,"v":21300},{"d":1603,"v":25200},
{"d":1604,"v":34000},{"d":1605,"v":33200},{"d":1606,"v":27100},{"d":1607,"v":23000},{"d":1608,"v":21500},{"d":1609,"v":22400},{"d":1610,"v":25600},
{"d":1611,"v":34900},{"d":1612,"v":35800},{"d":1613,"v":27400},{"d":1614,"v":22300},{"d":1615,"v":20500},{"d":1616,"v":21600},{"d":1617,"v":25500},
{"d":1618,"v":33800},{"d":1619,"v":33000},{"d":1620,"v":26900},{"d":1621,"v":22700},{"d":1622,"v":21200},{"d":1623,"v":22100},{"d":1624,"v":25400},
{"d":1625,"v":34000},{"d":1626,"v":34800},{"d":1627,"v":26700},{"d":1628,"v":21800},{"d":1629,"v":20000},{"d":1630,"v":21000},{"d":1631,"v":24900},
{"d":1632,"v":34200},{"d":1633,"v":33400},{"d":1634,"v":26800},{"d":1635,"v":22400},{"d":1636,"v":20800},{"d":1637,"v":21700},{"d":1638,"v":25200},
{"d":1639,"v":34600},{"d":1640,"v":35500},{"d":1641,"v":27800},{"d":1642,"v":23200},{"d":1643,"v":21500},{"d":1644,"v":22500},{"d":1645,"v":26100},
{"d":1646,"v":33600},{"d":1647,"v":32800},{"d":1648,"v":26400},{"d":1649,"v":22100},{"d":1650,"v":20500},{"d":1651,"v":21400},{"d":1652,"v":24800},
{"d":1653,"v":34200},{"d":1654,"v":35000},{"d":1655,"v":27300},{"d":1656,"v":22700},{"d":1657,"v":21000},{"d":1658,"v":22000},{"d":1659,"v":25600},
{"d":1660,"v":34400},{"d":1661,"v":33600},{"d":1662,"v":26500},{"d":1663,"v":21700},{"d":1664,"v":20000},{"d":1665,"v":21000},{"d":1666,"v":24800},
{"d":1667,"v":34400},{"d":1668,"v":35200},{"d":1669,"v":27800},{"d":1670,"v":23400},{"d":1671,"v":21800},{"d":1672,"v":22700},{"d":1673,"v":26200},
{"d":1674,"v":34000},{"d":1675,"v":33200},{"d":1676,"v":26600},{"d":1677,"v":22200},{"d":1678,"v":20600},{"d":1679,"v":21500},{"d":1680,"v":25000},
{"d":1681,"v":34000},{"d":1682,"v":34800},{"d":1683,"v":27300},{"d":1684,"v":22800},{"d":1685,"v":21200},{"d":1686,"v":22200},{"d":1687,"v":25700},
{"d":1688,"v":33500},{"d":1689,"v":32700},{"d":1690,"v":26400},{"d":1691,"v":22100},{"d":1692,"v":20500},{"d":1693,"v":21400},{"d":1694,"v":24800},
{"d":1695,"v":35300},{"d":1696,"v":36200},{"d":1697,"v":27300},{"d":1698,"v":21900},{"d":1699,"v":20000},{"d":1700,"v":21100},{"d":1701,"v":25300},
{"d":1702,"v":34000},{"d":1703,"v":33200},{"d":1704,"v":26000},{"d":1705,"v":21200},{"d":1706,"v":19500},{"d":1707,"v":20500},{"d":1708,"v":24300},
{"d":1709,"v":34100},{"d":1710,"v":35000},{"d":1711,"v":26200},{"d":1712,"v":20900},{"d":1713,"v":19000},{"d":1714,"v":20100},{"d":1715,"v":24300},
{"d":1716,"v":33000},{"d":1717,"v":32200},{"d":1718,"v":25000},{"d":1719,"v":20200},{"d":1720,"v":18500},{"d":1721,"v":19500},{"d":1722,"v":23300},
{"d":1723,"v":33600},{"d":1724,"v":34500},{"d":1725,"v":25400},{"d":1726,"v":20000},{"d":1727,"v":18000},{"d":1728,"v":19200},{"d":1729,"v":23400},
{"d":1730,"v":32500},{"d":1731,"v":31700},{"d":1732,"v":24300},{"d":1733,"v":19300},{"d":1734,"v":17500},{"d":1735,"v":18600},{"d":1736,"v":22500},
{"d":1737,"v":33200},{"d":1738,"v":34000},{"d":1739,"v":25300},{"d":1740,"v":20100},{"d":1741,"v":18200},{"d":1742,"v":19300},{"d":1743,"v":23400},
{"d":1744,"v":32000},{"d":1745,"v":31200},{"d":1746,"v":23600},{"d":1747,"v":18600},{"d":1748,"v":16800},{"d":1749,"v":17900},{"d":1750,"v":21800},
{"d":1751,"v":32700},{"d":1752,"v":33500},{"d":1753,"v":24900},{"d":1754,"v":19700},{"d":1755,"v":17800},{"d":1756,"v":18900},{"d":1757,"v":23000},
{"d":1758,"v":31800},{"d":1759,"v":31000},{"d":1760,"v":23800},{"d":1761,"v":19000},{"d":1762,"v":20500},{"d":1763,"v":16800},{"d":1764,"v":22500},
{"d":1765,"v":32000},{"d":1766,"v":32800},{"d":1767,"v":24700},{"d":1768,"v":19800},{"d":1769,"v":18000},{"d":1770,"v":19000},{"d":1771,"v":22900},
{"d":1772,"v":32200},{"d":1773,"v":31400},{"d":1774,"v":24100},{"d":1775,"v":19300},{"d":1776,"v":17500},{"d":1777,"v":18500},{"d":1778,"v":22400},
{"d":1779,"v":32200},{"d":1780,"v":33000},{"d":1781,"v":25000},{"d":1782,"v":20200},{"d":1783,"v":18500},{"d":1784,"v":19500},{"d":1785,"v":23300},
{"d":1786,"v":32500},{"d":1787,"v":31700},{"d":1788,"v":27000},{"d":1789,"v":26500},{"d":1790,"v":28000},{"d":1791,"v":30000},{"d":1792,"v":0},
{"d":1793,"v":35200},{"d":1794,"v":36000},{"d":1795,"v":27500},{"d":1796,"v":22400},{"d":1797,"v":20500},{"d":1798,"v":21600},{"d":1799,"v":25600},
{"d":1800,"v":37200},{"d":1801,"v":36300},{"d":1802,"v":28600},{"d":1803,"v":23400},{"d":1804,"v":21500},{"d":1805,"v":22600},{"d":1806,"v":26700},
{"d":1807,"v":34700},{"d":1808,"v":35500},{"d":1809,"v":27000},{"d":1810,"v":21900},{"d":1811,"v":20000},{"d":1812,"v":21100},{"d":1813,"v":25100},
{"d":1814,"v":38000},{"d":1815,"v":37100},{"d":1816,"v":29300},{"d":1817,"v":24100},{"d":1818,"v":22200},{"d":1819,"v":23300},{"d":1820,"v":27400},
{"d":1821,"v":35700},{"d":1822,"v":36500},{"d":1823,"v":28000},{"d":1824,"v":22900},{"d":1825,"v":21000},{"d":1826,"v":22100},{"d":1827,"v":26100},
{"d":1828,"v":38500},{"d":1829,"v":37600},{"d":1830,"v":30000},{"d":1831,"v":24900},{"d":1832,"v":23000},{"d":1833,"v":24100},{"d":1834,"v":28100},
{"d":1835,"v":35000},{"d":1836,"v":35800},{"d":1837,"v":27900},{"d":1838,"v":23200},{"d":1839,"v":21500},{"d":1840,"v":22500},{"d":1841,"v":26200},
{"d":1842,"v":37500},{"d":1843,"v":36700},{"d":1844,"v":29300},{"d":1845,"v":24300},{"d":1846,"v":22500},{"d":1847,"v":23600},{"d":1848,"v":27500},
{"d":1849,"v":35400},{"d":1850,"v":36200},{"d":1851,"v":28300},{"d":1852,"v":23500},{"d":1853,"v":21800},{"d":1854,"v":22800},{"d":1855,"v":26600},
{"d":1856,"v":38800},{"d":1857,"v":37900},{"d":1858,"v":30400},{"d":1859,"v":25300},{"d":1860,"v":23500},{"d":1861,"v":24600},{"d":1862,"v":28500},
{"d":1863,"v":36200},{"d":1864,"v":37000},{"d":1865,"v":28800},{"d":1866,"v":23800},{"d":1867,"v":22000},{"d":1868,"v":23100},{"d":1869,"v":27000},
{"d":1870,"v":37800},{"d":1871,"v":37000},{"d":1872,"v":29700},{"d":1873,"v":24800},{"d":1874,"v":23000},{"d":1875,"v":24000},{"d":1876,"v":27900},
{"d":1877,"v":35200},{"d":1878,"v":36000},{"d":1879,"v":28600},{"d":1880,"v":24100},{"d":1881,"v":22500},{"d":1882,"v":23400},{"d":1883,"v":27000},
{"d":1884,"v":38400},{"d":1885,"v":37600},{"d":1886,"v":30400},{"d":1887,"v":25600},{"d":1888,"v":23800},{"d":1889,"v":24800},{"d":1890,"v":28600},
{"d":1891,"v":36000},{"d":1892,"v":36800},{"d":1893,"v":29100},{"d":1894,"v":24500},{"d":1895,"v":22800},{"d":1896,"v":23800},{"d":1897,"v":27400},
{"d":1898,"v":38000},{"d":1899,"v":37200},{"d":1900,"v":29900},{"d":1901,"v":25000},{"d":1902,"v":23200},{"d":1903,"v":24200},{"d":1904,"v":28100},
{"d":1905,"v":36400},{"d":1906,"v":37200},{"d":1907,"v":29100},{"d":1908,"v":24300},{"d":1909,"v":22500},{"d":1910,"v":23500},{"d":1911,"v":27400},
{"d":1912,"v":38600},{"d":1913,"v":37800},{"d":1914,"v":30600},{"d":1915,"v":25800},{"d":1916,"v":24000},{"d":1917,"v":25000},{"d":1918,"v":28800},
{"d":1919,"v":35700},{"d":1920,"v":36500},{"d":1921,"v":29100},{"d":1922,"v":24600},{"d":1923,"v":23000},{"d":1924,"v":23900},{"d":1925,"v":27500},
{"d":1926,"v":37600},{"d":1927,"v":36800},{"d":1928,"v":30300},{"d":1929,"v":25900},{"d":1930,"v":24300},{"d":1931,"v":25200},{"d":1932,"v":28700},
{"d":1933,"v":39500},{"d":1934,"v":41400},{"d":1935,"v":32000},{"d":1936,"v":26500},{"d":1937,"v":25000},{"d":1938,"v":25800},{"d":1939,"v":24700},
{"d":1940,"v":30500},{"d":1941,"v":33600}
]},
"mark": {"type": "line", "color": "black", "strokeWidth": 1, "clip": true},
"encoding": {
  "x": {"field": "d", "type": "quantitative", "scale": {"domain": [-76.6, 2018.6], "nice": false, "zero": false},
        "axis": {"title": "Days", "values": [0, 500, 1000, 1500, 2000], "format": "d", "labelPadding": 26, "titlePadding": 20}},
  "y": {"field": "v", "type": "quantitative", "scale": {"domain": [-1658, 43108], "nice": false, "zero": false},
        "axis": {"title": "Sales", "values": [0, 10000, 20000, 30000, 40000], "format": "d", "labelAngle": -90, "labelAlign": "center", "labelBaseline": "bottom", "labelPadding": 20, "titlePadding": 24}}
}
},
{
"data": {"values": [{"d": 1, "v": 46400}, {"d": 1004, "v": 27050}]},
"mark": {"type": "line", "color": "black", "strokeWidth": 1, "clip": true},
"encoding": {
  "x": {"field": "d", "type": "quantitative"},
  "y": {"field": "v", "type": "quantitative"}
}
}
]
}
